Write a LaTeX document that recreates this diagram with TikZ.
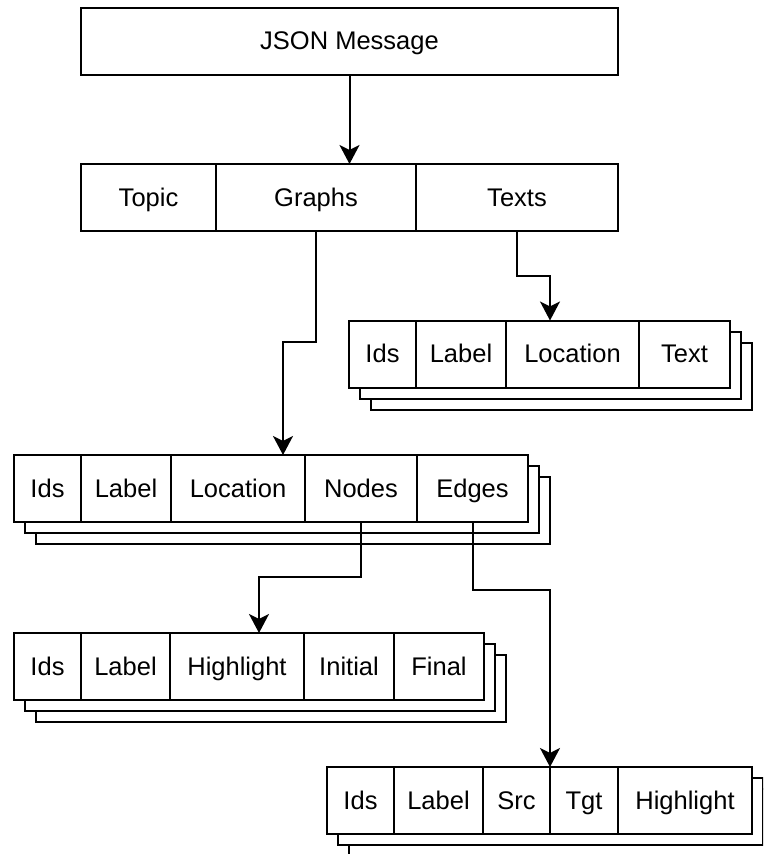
\documentclass[tikz,border=0pt]{standalone}
\usepackage{fontspec}
\setmainfont{Liberation Sans}
\usetikzlibrary{arrows.meta,calc,backgrounds}

\tikzset{
  cell/.style={draw, line width=2pt, fill=white, outer sep=0pt, inner sep=0pt,
    minimum height=67pt, text height=23pt, text depth=6pt,
    font=\fontsize{25.5pt}{30pt}\selectfont},
  layer/.style={draw, line width=2pt, fill=white},
  arr/.style={line width=2pt, -{Stealth[length=19pt, width=20pt, inset=5pt]}},
}

\begin{document}
\begin{tikzpicture}[x=1pt, y=-1pt]
\useasboundingbox (0,0) rectangle (763,854);

% top-level message
\node[cell, minimum width=537pt, minimum height=67.5pt] (json) at (349.5,41.25) {JSON Message};

% message fields
\node[cell, minimum width=135pt, anchor=north west] (rTopic) at (81,164) {Topic};
\node[cell, minimum width=200pt, anchor=west] (rGraphs) at (rTopic.east) {Graphs};
\node[cell, minimum width=202pt, anchor=west] (rTexts) at (rGraphs.east) {Texts};

% text entries
\node[cell, minimum width=67pt, anchor=north west] (tIds) at (349,320.5) {Ids};
\node[cell, minimum width=90pt, anchor=west] (tLabel) at (tIds.east) {Label};
\node[cell, minimum width=133pt, anchor=west] (tLoc) at (tLabel.east) {Location};
\node[cell, minimum width=91pt, anchor=west] (tText) at (tLoc.east) {Text};

% graph entries
\node[cell, minimum width=67pt, anchor=north west] (gIds) at (14,455) {Ids};
\node[cell, minimum width=90pt, anchor=west] (gLabel) at (gIds.east) {Label};
\node[cell, minimum width=134pt, anchor=west] (gLoc) at (gLabel.east) {Location};
\node[cell, minimum width=112pt, anchor=west] (gNodes) at (gLoc.east) {Nodes};
\node[cell, minimum width=111pt, anchor=west] (gEdges) at (gNodes.east) {Edges};

% node entries
\node[cell, minimum width=67pt, anchor=north west] (nIds) at (14,633) {Ids};
\node[cell, minimum width=89pt, anchor=west] (nLabel) at (nIds.east) {Label};
\node[cell, minimum width=134pt, anchor=west] (nHigh) at (nLabel.east) {Highlight};
\node[cell, minimum width=90pt, anchor=west] (nInit) at (nHigh.east) {Initial};
\node[cell, minimum width=90pt, anchor=west] (nFinal) at (nInit.east) {Final};

% edge entries
\node[cell, minimum width=67pt, anchor=north west] (eIds) at (327,767) {Ids};
\node[cell, minimum width=89pt, anchor=west] (eLabel) at (eIds.east) {Label};
\node[cell, minimum width=67pt, anchor=west] (eSrc) at (eLabel.east) {Src};
\node[cell, minimum width=68pt, anchor=west] (eTgt) at (eSrc.east) {Tgt};
\node[cell, minimum width=134pt, anchor=west] (eHigh) at (eTgt.east) {Highlight};

% stacked copies behind each list
\begin{scope}[on background layer]
  \clip (0,0) rectangle (763,854);
  \foreach \first/\last in {tIds/tText, gIds/gEdges, nIds/nFinal, eIds/eHigh} {
    \draw[layer] ($(\first.north west)+(22,22)$) rectangle ($(\last.south east)+(22,22)$);
    \draw[layer] ($(\first.north west)+(11,11)$) rectangle ($(\last.south east)+(11,11)$);
  }
\end{scope}

% connectors
\draw[arr] (json.south) -- (json.south |- rGraphs.north);
\draw[arr] (rTexts.south) -- ++(0,45) -| ([xshift=-22.5pt]tLoc.north);
\draw[arr] (rGraphs.south) -- ++(0,111) -| ([xshift=45pt]gLoc.north);
\draw[arr] (gNodes.south) -- ++(0,55) -| ([xshift=22pt]nHigh.north);
\draw[arr] (gEdges.south) -- ++(0,68) -| (eSrc.north east);
\end{tikzpicture}
\end{document}
